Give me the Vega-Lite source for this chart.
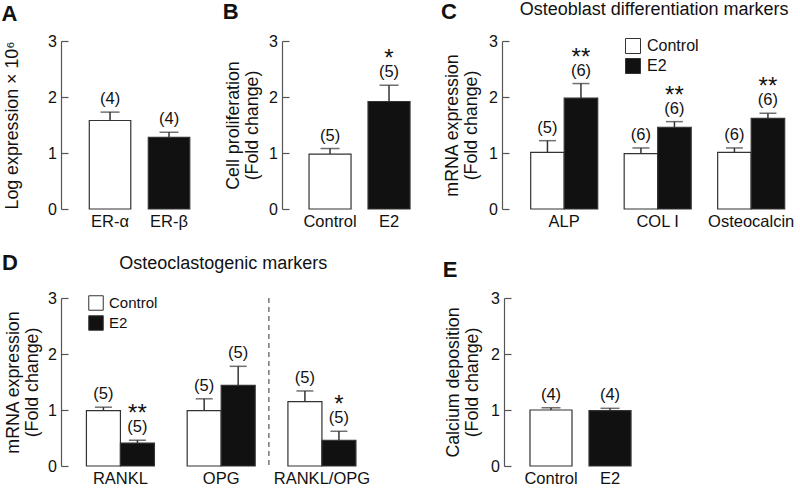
{
  "$schema": "https://vega.github.io/schema/vega-lite/v6.json",
  "background": "white",
  "padding": {"left": 1, "top": 0, "right": 0, "bottom": 0},
  "config": {
    "font": "Liberation Sans",
    "view": {"stroke": null},
    "title": {"anchor": "start", "frame": "bounds", "fontSize": 22, "fontWeight": "bold", "color": "#111", "baseline": "alphabetic", "dx": -2},
    "axisX": {"domain": false, "ticks": false, "labelFontSize": 16.5, "labelColor": "#111", "labelPadding": 4, "labelAngle": 0, "grid": false},
    "axisY": {"domainColor": "#555", "domainWidth": 1.2, "tickColor": "#555", "tickWidth": 1.2, "tickSize": -7, "labelPadding": 11.5, "labelFontSize": 16, "labelColor": "#111", "titleFontSize": 17.8, "titleFontWeight": "normal", "titleColor": "#111", "titleLineHeight": 19, "grid": false, "format": "d"}
  },
  "spacing": 22,
  "resolve": {"scale": {"color": "independent", "xOffset": "independent"}, "legend": {"color": "independent"}},
  "vconcat": [
    {
      "hconcat": [
        {
          "width": 211, "height": 168,
          "title": {"text": "A", "offset": 7},
          "data": {"values": [
            {"cat": "ER-α", "val": 1.58, "err": 1.73, "n": "(4)", "sig": ""},
            {"cat": "ER-β", "val": 1.28, "err": 1.37, "n": "(4)", "sig": ""}
          ]},
          "encoding": {"x": {"field": "cat", "type": "nominal", "axis": {"title": null}, "scale": {"domain": ["ER-α", "ER-β"], "paddingInner": 0.297, "paddingOuter": 0.9365, "align": 0.256}}},
          "layer": [
            {"mark": {"type": "bar", "stroke": "#333", "strokeWidth": 1.2},
             "encoding": {"y": {"field": "val", "type": "quantitative", "scale": {"domain": [0, 3]}, "axis": {"title": "Log expression × 10⁶", "titlePadding": 26, "values": [0, 1, 2, 3]}},
                          "color": {"field": "cat", "type": "nominal", "scale": {"domain": ["ER-α", "ER-β"], "range": ["#ffffff", "#111111"]}, "legend": null}}},
            {"mark": {"type": "rule", "color": "#333", "strokeWidth": 1.5},
             "encoding": {"y": {"field": "val", "type": "quantitative", "scale": {"domain": [0, 3]}}, "y2": {"field": "err"}}},
            {"mark": {"type": "tick", "color": "#333", "size": 19, "thickness": 1.5},
             "encoding": {"y": {"field": "err", "type": "quantitative", "scale": {"domain": [0, 3]}}}},
            {"mark": {"type": "text", "fontSize": 16.5, "dy": -8, "baseline": "alphabetic", "color": "#111"},
             "encoding": {"y": {"field": "err", "type": "quantitative", "scale": {"domain": [0, 3]}}, "text": {"field": "n"}}}
          ]
        },
        {
          "width": 210, "height": 168,
          "title": {"text": "B", "offset": 8.7},
          "data": {"values": [
            {"cat": "Control", "val": 0.98, "err": 1.08, "n": "(5)", "sig": ""},
            {"cat": "E2", "val": 1.92, "err": 2.21, "n": "(5)", "sig": "*"}
          ]},
          "encoding": {"x": {"field": "cat", "type": "nominal", "axis": {"title": null}, "scale": {"domain": ["Control", "E2"], "paddingInner": 0.288, "paddingOuter": 0.924, "align": 0.248}}},
          "layer": [
            {"mark": {"type": "bar", "stroke": "#333", "strokeWidth": 1.2},
             "encoding": {"y": {"field": "val", "type": "quantitative", "scale": {"domain": [0, 3]}, "axis": {"title": ["Cell proliferation", "(Fold change)"], "titlePadding": 6.8, "values": [0, 1, 2, 3]}},
                          "color": {"field": "cat", "type": "nominal", "scale": {"domain": ["Control", "E2"], "range": ["#ffffff", "#111111"]}, "legend": null}}},
            {"mark": {"type": "rule", "color": "#333", "strokeWidth": 1.5},
             "encoding": {"y": {"field": "val", "type": "quantitative", "scale": {"domain": [0, 3]}}, "y2": {"field": "err"}}},
            {"mark": {"type": "tick", "color": "#333", "size": 19, "thickness": 1.5},
             "encoding": {"y": {"field": "err", "type": "quantitative", "scale": {"domain": [0, 3]}}}},
            {"mark": {"type": "text", "fontSize": 16.5, "dy": -8, "baseline": "alphabetic", "color": "#111"},
             "encoding": {"y": {"field": "err", "type": "quantitative", "scale": {"domain": [0, 3]}}, "text": {"field": "n"}}},
            {"mark": {"type": "text", "fontSize": 24, "dy": -19, "baseline": "alphabetic", "color": "#111"},
             "encoding": {"y": {"field": "err", "type": "quantitative", "scale": {"domain": [0, 3]}}, "text": {"field": "sig"}}}
          ]
        },
        {
          "width": 290, "height": 168,
          "title": {"text": "C", "offset": -22.5},
          "data": {"values": [
            {"cat": "ALP", "grp": "Control", "val": 1.01, "err": 1.22, "n": "(5)", "sig": ""},
            {"cat": "ALP", "grp": "E2", "val": 1.98, "err": 2.24, "n": "(6)", "sig": "**"},
            {"cat": "COL I", "grp": "Control", "val": 0.99, "err": 1.09, "n": "(6)", "sig": ""},
            {"cat": "COL I", "grp": "E2", "val": 1.46, "err": 1.56, "n": "(6)", "sig": "**"},
            {"cat": "Osteocalcin", "grp": "Control", "val": 1.01, "err": 1.09, "n": "(6)", "sig": ""},
            {"cat": "Osteocalcin", "grp": "E2", "val": 1.62, "err": 1.71, "n": "(6)", "sig": "**"}
          ]},
          "encoding": {"x": {"field": "cat", "type": "nominal", "axis": {"title": null}, "scale": {"domain": ["ALP", "COL I", "Osteocalcin"], "paddingInner": 0.283, "paddingOuter": 0.1925, "align": 0.797}}},
          "layer": [
            {"mark": {"type": "bar", "stroke": "#333", "strokeWidth": 1.2},
             "encoding": {"y": {"field": "val", "type": "quantitative", "scale": {"domain": [0, 3]}, "axis": {"title": ["mRNA expression", "(Fold change)"], "titlePadding": 8.5, "values": [0, 1, 2, 3]}},
                          "xOffset": {"field": "grp", "type": "nominal", "scale": {"domain": ["Control", "E2"], "paddingInner": 0, "paddingOuter": 0}},
                          "color": {"field": "grp", "type": "nominal", "scale": {"domain": ["Control", "E2"], "range": ["#ffffff", "#111111"]},
                                    "legend": {"orient": "none", "legendX": 123, "legendY": -3, "title": null, "symbolType": "square", "symbolSize": 225, "symbolStrokeColor": "#333", "symbolStrokeWidth": 1, "labelFontSize": 16, "labelColor": "#111", "rowPadding": 0, "labelOffset": 6}}}},
            {"mark": {"type": "rule", "color": "#333", "strokeWidth": 1.5},
             "encoding": {"y": {"field": "val", "type": "quantitative", "scale": {"domain": [0, 3]}}, "y2": {"field": "err"},
                          "xOffset": {"field": "grp", "type": "nominal", "scale": {"domain": ["Control", "E2"], "paddingInner": 0, "paddingOuter": 0}}}},
            {"mark": {"type": "tick", "color": "#333", "size": 17, "thickness": 1.5},
             "encoding": {"y": {"field": "err", "type": "quantitative", "scale": {"domain": [0, 3]}},
                          "xOffset": {"field": "grp", "type": "nominal", "scale": {"domain": ["Control", "E2"], "paddingInner": 0, "paddingOuter": 0}}}},
            {"mark": {"type": "text", "fontSize": 16.5, "dy": -8, "baseline": "alphabetic", "color": "#111"},
             "encoding": {"y": {"field": "err", "type": "quantitative", "scale": {"domain": [0, 3]}}, "text": {"field": "n"},
                          "xOffset": {"field": "grp", "type": "nominal", "scale": {"domain": ["Control", "E2"], "paddingInner": 0, "paddingOuter": 0}}}},
            {"mark": {"type": "text", "fontSize": 24, "dy": -19, "baseline": "alphabetic", "color": "#111"},
             "encoding": {"y": {"field": "err", "type": "quantitative", "scale": {"domain": [0, 3]}}, "text": {"field": "sig"},
                          "xOffset": {"field": "grp", "type": "nominal", "scale": {"domain": ["Control", "E2"], "paddingInner": 0, "paddingOuter": 0}}}},
            {"data": {"values": [{"t": "Osteoblast differentiation markers"}]},
             "mark": {"type": "text", "fontSize": 18, "dx": -3.5, "dy": -26, "baseline": "alphabetic", "color": "#111"},
             "encoding": {"x": {"datum": "COL I", "type": "nominal"}, "y": {"datum": 3, "type": "quantitative", "scale": {"domain": [0, 3]}}, "text": {"field": "t"}}}
          ]
        }
      ],
      "spacing": 10,
      "bounds": "flush",
      "resolve": {"scale": {"color": "independent", "xOffset": "independent"}, "legend": {"color": "independent"}}
    },
    {
      "hconcat": [
        {
          "width": 433, "height": 168,
          "title": {"text": "D", "offset": -20.2},
          "data": {"values": [
            {"cat": "RANKL", "grp": "Control", "val": 0.99, "err": 1.05, "n": "(5)", "sig": ""},
            {"cat": "RANKL", "grp": "E2", "val": 0.41, "err": 0.46, "n": "(5)", "sig": "**"},
            {"cat": "OPG", "grp": "Control", "val": 0.99, "err": 1.2, "n": "(5)", "sig": ""},
            {"cat": "OPG", "grp": "E2", "val": 1.44, "err": 1.78, "n": "(5)", "sig": ""},
            {"cat": "RANKL/OPG", "grp": "Control", "val": 1.15, "err": 1.34, "n": "(5)", "sig": ""},
            {"cat": "RANKL/OPG", "grp": "E2", "val": 0.46, "err": 0.62, "n": "(5)", "sig": "*"}
          ]},
          "encoding": {"x": {"field": "cat", "type": "nominal", "axis": {"title": null}, "scale": {"domain": ["RANKL", "OPG", "RANKL/OPG"], "paddingInner": 0.325, "paddingOuter": 0.8114, "align": 0.1555}}},
          "layer": [
            {"mark": {"type": "bar", "stroke": "#333", "strokeWidth": 1.2},
             "encoding": {"y": {"field": "val", "type": "quantitative", "scale": {"domain": [0, 3]}, "axis": {"title": ["mRNA expression", "(Fold change)"], "titlePadding": 6.5, "values": [0, 1, 2, 3]}},
                          "xOffset": {"field": "grp", "type": "nominal", "scale": {"domain": ["Control", "E2"], "paddingInner": 0, "paddingOuter": 0}},
                          "color": {"field": "grp", "type": "nominal", "scale": {"domain": ["Control", "E2"], "range": ["#ffffff", "#111111"]},
                                    "legend": {"orient": "none", "legendX": 27, "legendY": -3, "title": null, "symbolType": "square", "symbolSize": 210, "symbolStrokeColor": "#333", "symbolStrokeWidth": 1, "labelFontSize": 15, "labelColor": "#111", "rowPadding": 0, "labelOffset": 5}}}},
            {"mark": {"type": "rule", "color": "#333", "strokeWidth": 1.5},
             "encoding": {"y": {"field": "val", "type": "quantitative", "scale": {"domain": [0, 3]}}, "y2": {"field": "err"},
                          "xOffset": {"field": "grp", "type": "nominal", "scale": {"domain": ["Control", "E2"], "paddingInner": 0, "paddingOuter": 0}}}},
            {"mark": {"type": "tick", "color": "#333", "size": 17, "thickness": 1.5},
             "encoding": {"y": {"field": "err", "type": "quantitative", "scale": {"domain": [0, 3]}},
                          "xOffset": {"field": "grp", "type": "nominal", "scale": {"domain": ["Control", "E2"], "paddingInner": 0, "paddingOuter": 0}}}},
            {"mark": {"type": "text", "fontSize": 16.5, "dy": -8, "baseline": "alphabetic", "color": "#111"},
             "encoding": {"y": {"field": "err", "type": "quantitative", "scale": {"domain": [0, 3]}}, "text": {"field": "n"},
                          "xOffset": {"field": "grp", "type": "nominal", "scale": {"domain": ["Control", "E2"], "paddingInner": 0, "paddingOuter": 0}}}},
            {"mark": {"type": "text", "fontSize": 24, "dy": -19, "baseline": "alphabetic", "color": "#111"},
             "encoding": {"y": {"field": "err", "type": "quantitative", "scale": {"domain": [0, 3]}}, "text": {"field": "sig"},
                          "xOffset": {"field": "grp", "type": "nominal", "scale": {"domain": ["Control", "E2"], "paddingInner": 0, "paddingOuter": 0}}}},
            {"data": {"values": [{"t": "Osteoclastogenic markers"}]},
             "mark": {"type": "text", "fontSize": 18, "dx": 2, "dy": -29, "baseline": "alphabetic", "color": "#111"},
             "encoding": {"x": {"datum": "OPG", "type": "nominal"}, "y": {"datum": 3, "type": "quantitative", "scale": {"domain": [0, 3]}}, "text": {"field": "t"}}},
            {"data": {"values": [{"sep": "RANKL/OPG"}]},
             "mark": {"type": "rule", "color": "#555", "strokeWidth": 1.2, "strokeDash": [5, 4]},
             "encoding": {"x": {"datum": "RANKL/OPG", "type": "nominal", "bandPosition": -0.28}}}
          ]
        },
        {
          "width": 140, "height": 168,
          "title": {"text": "E", "offset": 7.6},
          "data": {"values": [
            {"cat": "Control", "val": 1.0, "err": 1.04, "n": "(4)", "sig": ""},
            {"cat": "E2", "val": 0.99, "err": 1.03, "n": "(4)", "sig": ""}
          ]},
          "encoding": {"x": {"field": "cat", "type": "nominal", "axis": {"title": null}, "scale": {"domain": ["Control", "E2"], "paddingInner": 0.288, "paddingOuter": 0.33, "align": 0.667}}},
          "layer": [
            {"mark": {"type": "bar", "stroke": "#333", "strokeWidth": 1.2},
             "encoding": {"y": {"field": "val", "type": "quantitative", "scale": {"domain": [0, 3]}, "axis": {"title": ["Calcium deposition", "(Fold change)"], "titlePadding": 8.8, "values": [0, 1, 2, 3]}},
                          "color": {"field": "cat", "type": "nominal", "scale": {"domain": ["Control", "E2"], "range": ["#ffffff", "#111111"]}, "legend": null}}},
            {"mark": {"type": "rule", "color": "#333", "strokeWidth": 1.5},
             "encoding": {"y": {"field": "val", "type": "quantitative", "scale": {"domain": [0, 3]}}, "y2": {"field": "err"}}},
            {"mark": {"type": "tick", "color": "#333", "size": 19, "thickness": 1.5},
             "encoding": {"y": {"field": "err", "type": "quantitative", "scale": {"domain": [0, 3]}}}},
            {"mark": {"type": "text", "fontSize": 16.5, "dy": -8, "baseline": "alphabetic", "color": "#111"},
             "encoding": {"y": {"field": "err", "type": "quantitative", "scale": {"domain": [0, 3]}}, "text": {"field": "n"}}}
          ]
        }
      ],
      "spacing": 10,
      "bounds": "flush",
      "resolve": {"scale": {"color": "independent", "xOffset": "independent"}, "legend": {"color": "independent"}}
    }
  ]
}
